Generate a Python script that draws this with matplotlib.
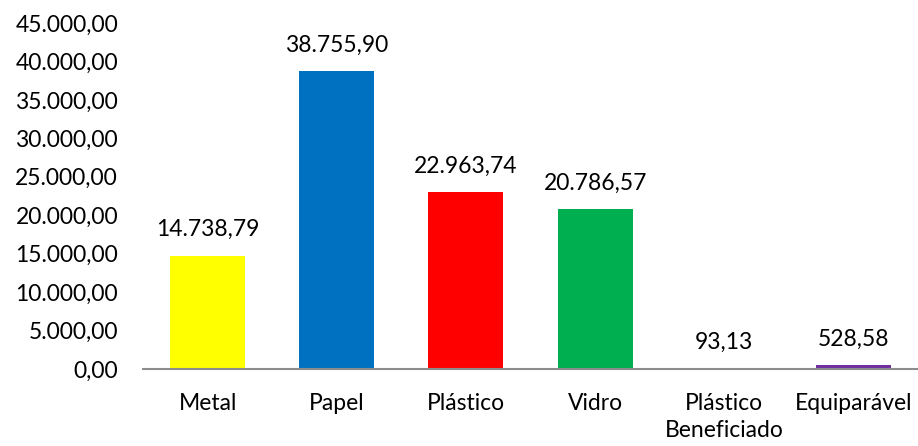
import matplotlib.pyplot as plt

# Dados
categorias = ['Metal', 'Papel', 'Plástico', 'Vidro', 'Plástico\nBeneficiado', 'Equiparável']
valores = [14738.79, 38755.90, 22963.74, 20786.57, 93.13, 528.58]
cores = ['#FFFF00', '#0070C0', '#FF0000', '#00B050', '#00B0F0', '#7030A0']


def fmt_br(v):
    s = f"{v:,.2f}"
    return s.replace(',', 'X').replace('.', ',').replace('X', '.')


plt.rcParams['font.family'] = ['Lato', 'DejaVu Sans']

fig = plt.figure(figsize=(9.18, 4.46), dpi=100)
ax = fig.add_axes([0.1558, 0.1726, 0.8442, 0.7758])

x = range(len(categorias))
barras = ax.bar(x, valores, width=0.58, color=cores)

for xi, v in zip(x, valores):
    ax.text(xi, v + 2000, fmt_br(v), ha='center', va='bottom', fontsize=16.5)

ax.set_xlim(-0.5, len(categorias) - 0.5)
ax.set_ylim(0, 45000)
ax.set_yticks(range(0, 45001, 5000))
ax.set_yticklabels([fmt_br(t) for t in range(0, 45001, 5000)], fontsize=16.5)
ax.set_xticks(list(x))
ax.set_xticklabels(categorias, fontsize=16.5, va='top', linespacing=1.35)

for lado in ['top', 'right', 'left']:
    ax.spines[lado].set_visible(False)
ax.spines['bottom'].set_color('#8C8C8C')
ax.spines['bottom'].set_linewidth(1.5)
ax.tick_params(axis='both', length=0)
ax.tick_params(axis='y', pad=18)
ax.tick_params(axis='x', pad=17)

fig.savefig('out.png', dpi=100)
